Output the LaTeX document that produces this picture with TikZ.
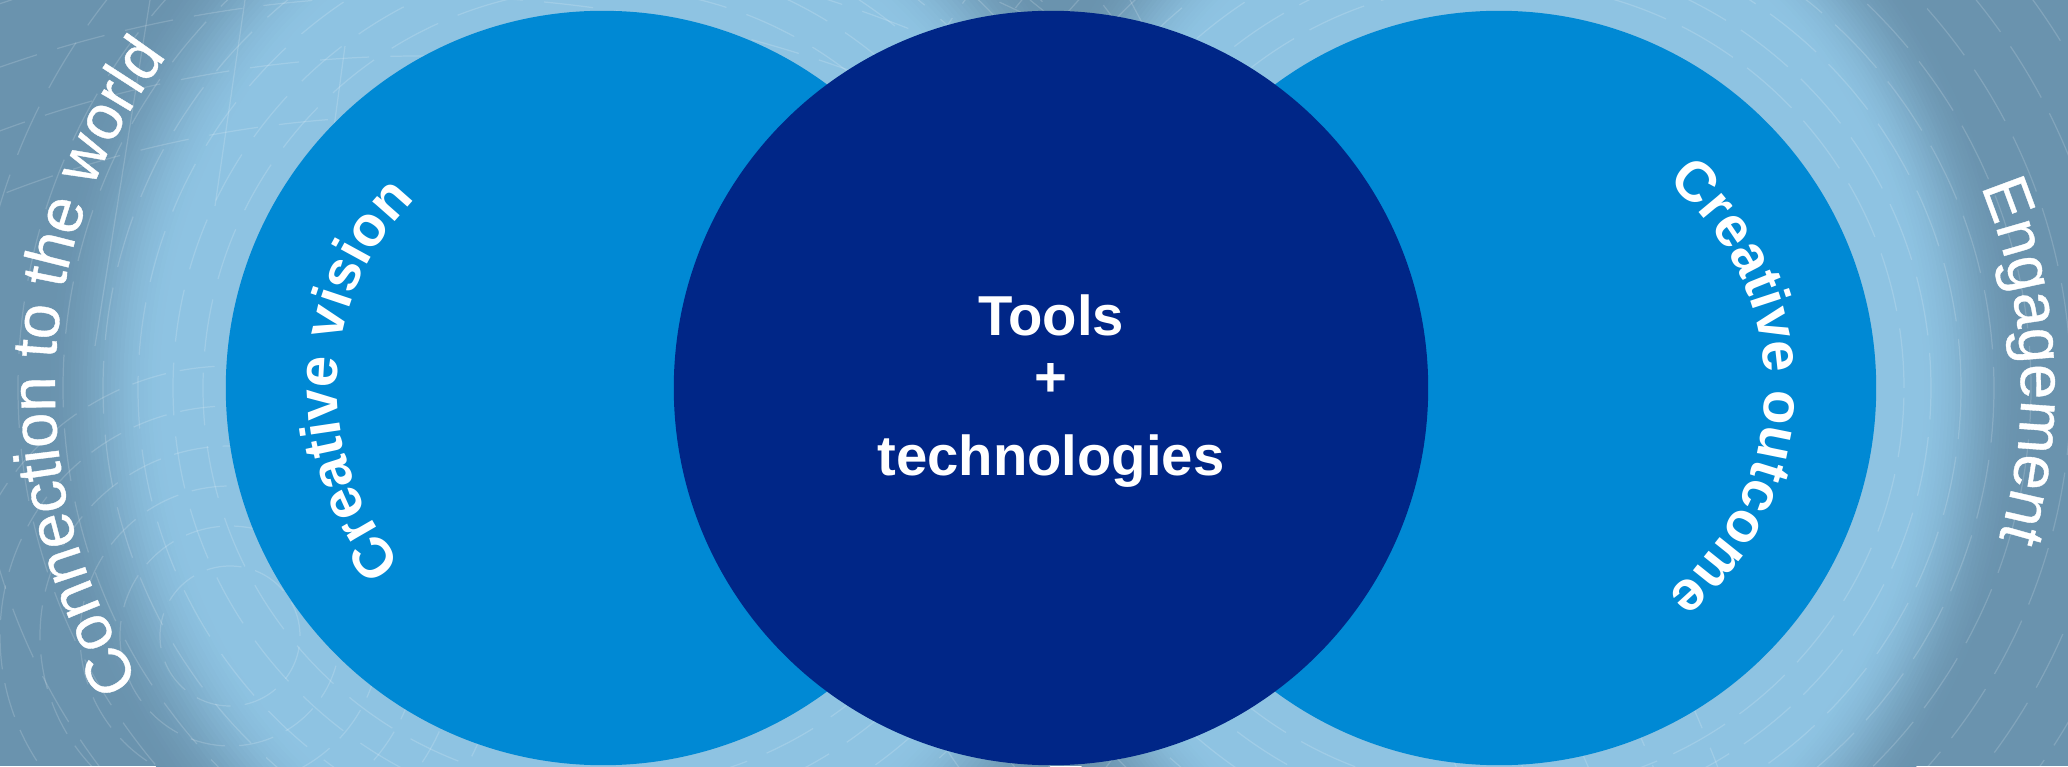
\documentclass[tikz,border=0pt]{standalone}
\usepackage{fontspec}
\setmainfont{Liberation Sans}
\newfontfamily\medfont[FakeBold=0.6]{Liberation Sans}
\usetikzlibrary{decorations.text}

\definecolor{bggray}{HTML}{6A93AE}
\definecolor{halo}{HTML}{8EC3E2}
\definecolor{midblue}{HTML}{0089D4}
\definecolor{navy}{HTML}{002687}

\tikzset{
  disc/.style={circle, inner sep=0pt, minimum size=7.54cm},
  ctext/.style={text=white, inner sep=0pt, font=\fontsize{16}{16}\bfseries\selectfont},
  texture/.style={draw=white, opacity=0.16, line width=0.35pt},
  arctext/.style={decorate, decoration={text along path, text align=center, text color=white, text={#1}}}
}

\begin{document}
\begin{tikzpicture}[x=0.01cm, y=0.01cm]
\useasboundingbox (0,0) rectangle (2068,766);
\fill[bggray] (0,0) rectangle (2068,766);

% soft halos (outer rings first, grey to light)
\foreach \i in {0,...,30} {
  \pgfmathsetmacro{\s}{1.11-0.24*\i/30}
  \pgfmathsetmacro{\t}{\i/30}
  \pgfmathsetmacro{\p}{100*\t*\t*(3-2*\t)}
  \fill[color=halo!\p!bggray] (603,378) ellipse[x radius={505*\s}, y radius={565*\s}];
}
\foreach \i in {0,...,30} {
  \pgfmathsetmacro{\s}{1.11-0.22*\i/30}
  \pgfmathsetmacro{\t}{\i/30}
  \pgfmathsetmacro{\p}{100*\t*\t*(3-2*\t)}
  \fill[color=halo!\p!bggray] (1499,378) ellipse[x radius={474*\s}, y radius={560*\s}];
}

% faint texture
\begin{scope}
\clip (0,0) rectangle (2068,766);
\foreach \r/\ph in {405/0, 432/7, 462/3, 495/11, 532/5, 572/9, 615/2, 660/6}
  \draw[texture, dash pattern=on 17pt off 5pt, dash phase=\ph pt] (1499,378) circle (\r);
\foreach \r/\ph in {400/4, 430/1, 465/8, 500/2, 540/10, 585/6, 630/3}
  \draw[texture, dash pattern=on 15pt off 6pt, dash phase=\ph pt] (603,378) circle (\r);
\foreach \r/\ph in {70/0, 110/4, 150/2, 190/7, 230/5, 270/1}
  \draw[texture, dash pattern=on 10pt off 4pt, dash phase=\ph pt] (230,130) circle (\r);
\foreach \r/\ph in {1150/0, 1210/5, 1270/2, 1330/8, 1390/3}
  \draw[texture, dash pattern=on 14pt off 6pt, dash phase=\ph pt] (420,-500) circle (\r);
\draw[texture] (150,766) -- (95,420);
\draw[texture] (245,766) -- (215,560);
\draw[texture] (345,720) -- (318,520);
\draw[texture] (1130,766) -- (1165,700);
\draw[texture] (1030,766) -- (1075,730);
\end{scope}

% discs
\node[disc, fill=midblue] (left) at (603,378) {};
\node[disc, fill=midblue] (right) at (1499,378) {};
\node[disc, fill=navy] (center) at (1051,378) {};

% centre text
\node[ctext, anchor=base] (tools) at (1051,430) {Tools};
\node[ctext] (plus) at (1051,386) {+};
\node[ctext, anchor=base] (tech) at (1051,291) {technologies};

% curved texts
\path[arctext={|\fontsize{16}{16}\bfseries\selectfont|Creative vision}]
  (left.center) ++(228:266) arc[start angle=228, end angle=128, radius=266];
\path[arctext={|\fontsize{16}{16}\bfseries\selectfont|Creative outcome}]
  (right.center) ++(55:266) arc[start angle=55, end angle=-55, radius=266];
\path[arctext={|\fontsize{18}{18}\medfont|Connection to the world}]
  (left.center) ++(232:548) arc[start angle=232, end angle=123, radius=548];
\path[arctext={|\fontsize{18}{18}\medfont|Engagement}]
  (right.center) ++(45:522) arc[start angle=45, end angle=-39, radius=522];
\end{tikzpicture}
\end{document}
